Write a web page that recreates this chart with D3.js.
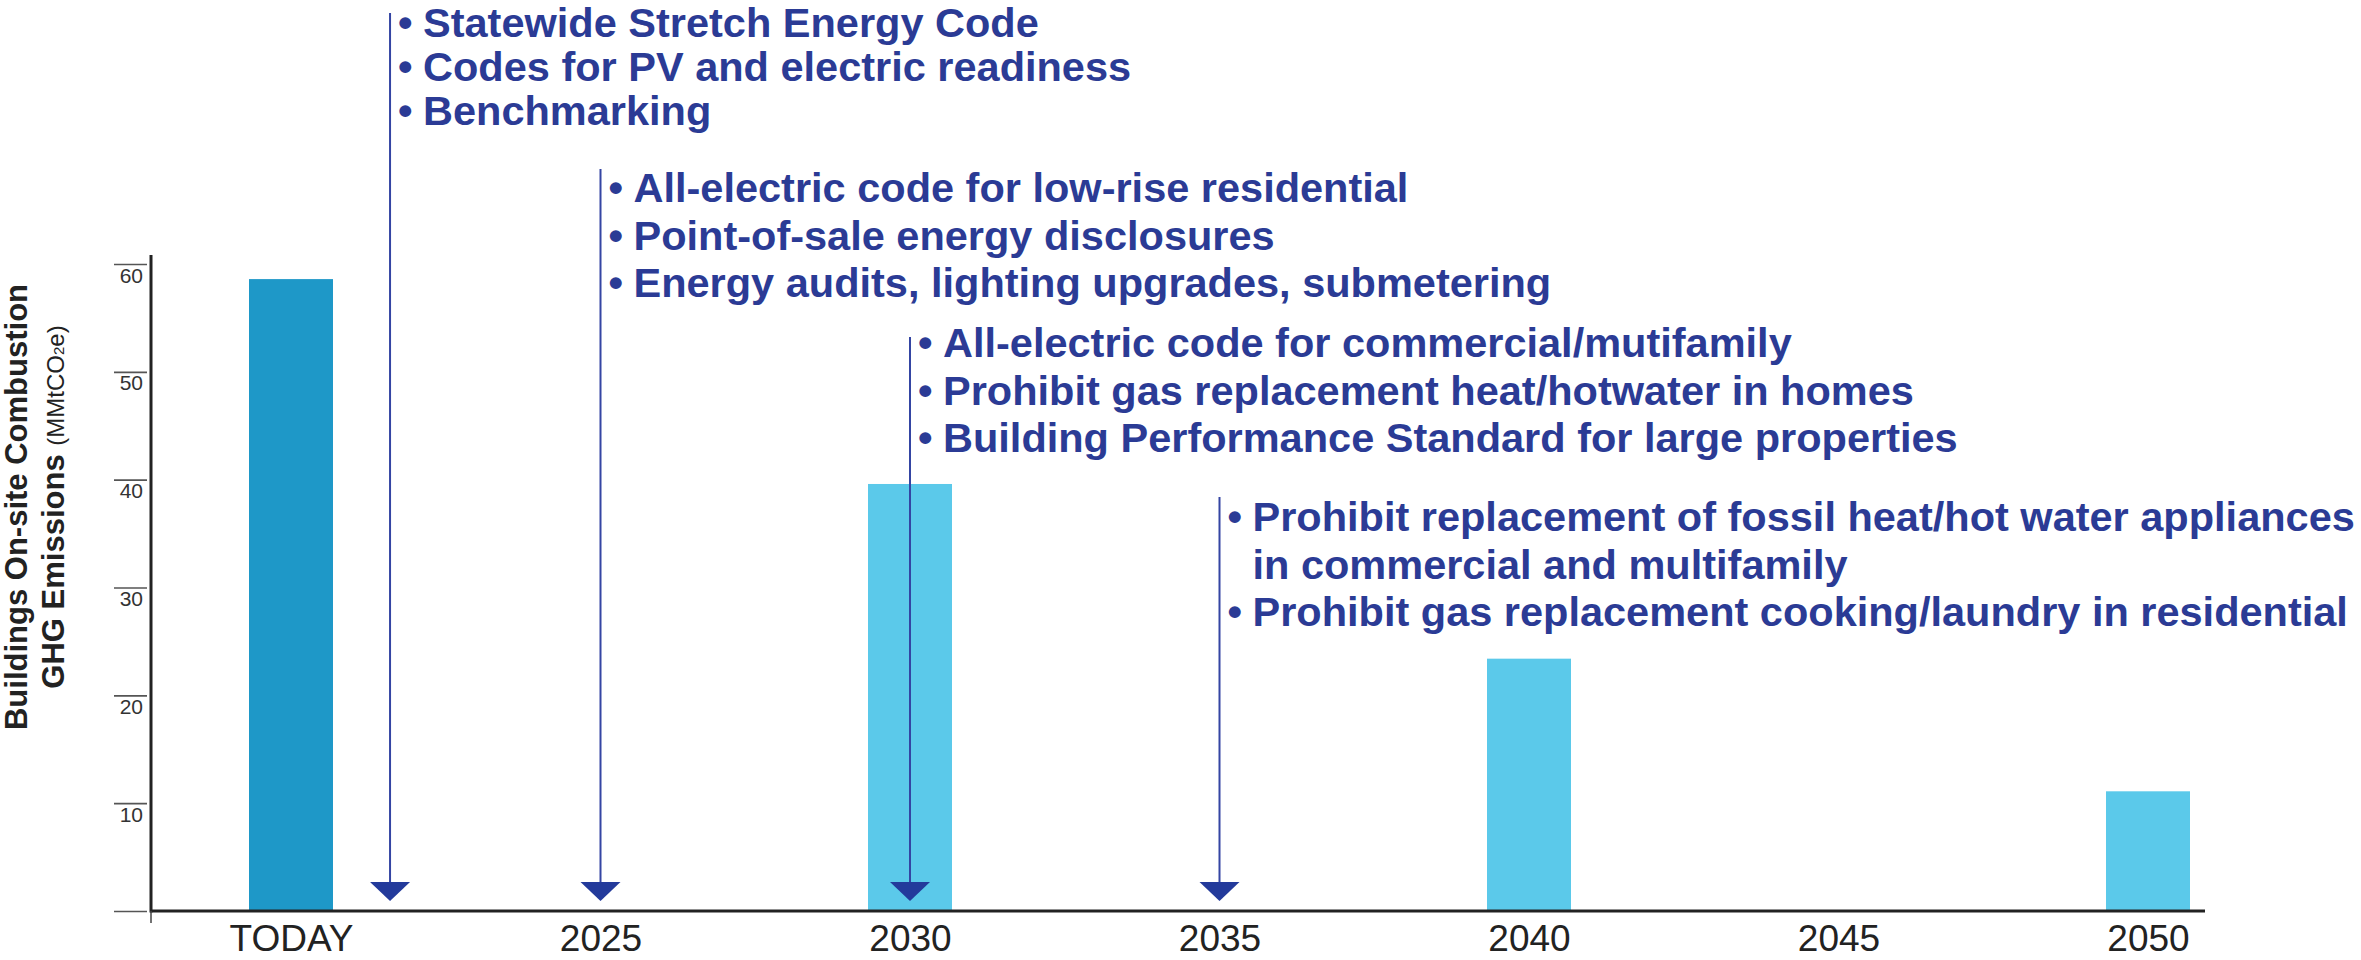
<!DOCTYPE html>
<html>
<head>
<meta charset="utf-8">
<script src="https://cdn.jsdelivr.net/npm/d3@7"></script>
<style>
  html, body { margin: 0; padding: 0; background: #fff; }
  svg { display: block; font-family: "Liberation Sans", Arial, Helvetica, sans-serif; }
</style>
</head>
<body>
<svg id="chart" width="2361" height="960"></svg>
<script>
// x categories (TODAY placed at 2020 on the year scale)
var categories = ['TODAY', '2025', '2030', '2035', '2040', '2045', '2050'];
var categoryYears = [2020, 2025, 2030, 2035, 2040, 2045, 2050];

// bars, MMtCO2e
var barYears = [2020, 2030, 2040, 2050];
var barValues = [58.6, 39.6, 23.4, 11.1];

var yTicks = [0, 10, 20, 30, 40, 50, 60];

// policy milestones (arrows) and their bullet lists
var milestoneYears = [2021.6, 2025, 2030, 2035];
var milestoneLines = [
  [{t: 'Statewide Stretch Energy Code', b: true},
   {t: 'Codes for PV and electric readiness', b: true},
   {t: 'Benchmarking', b: true}],
  [{t: 'All-electric code for low-rise residential', b: true},
   {t: 'Point-of-sale energy disclosures', b: true},
   {t: 'Energy audits, lighting upgrades, submetering', b: true}],
  [{t: 'All-electric code for commercial/mutifamily', b: true},
   {t: 'Prohibit gas replacement heat/hotwater in homes', b: true},
   {t: 'Building Performance Standard for large properties', b: true}],
  [{t: 'Prohibit replacement of fossil heat/hot water appliances', b: true},
   {t: 'in commercial and multifamily', b: false},
   {t: 'Prohibit gas replacement cooking/laundry in residential', b: true}]
];

var svg = d3.select('#chart');

var BAR_W = 84;
var BLUE_TEXT = '#2b3b95';
var ARROW_Y = 882;
var FONT_NOTE = '41.5px';

var x = d3.scaleLinear().domain([2020, 2050]).range([291, 2148]);
var y = d3.scaleLinear().domain([0, 60]).range([911, 264]);

// layout of the text blocks: top of arrow line, first baseline, row step
var blockTops = [13, 169, 337, 497];
var blockBase = [37, 202, 357, 531];
var blockStep = [44, 47.5, 47.5, 47.5];

var drawBars = function () {
  svg.append('g').selectAll('rect')
    .data(barValues)
    .enter().append('rect')
      .attr('x', function (d, i) { return x(barYears[i]) - BAR_W / 2; })
      .attr('y', function (d) { return y(d); })
      .attr('width', BAR_W)
      .attr('height', function (d) { return y(0) - y(d); })
      .style('fill', function (d, i) { return i === 0 ? '#1e98c8' : '#5bc9ea'; });
};

var drawAxes = function () {
  // y axis: short tick bars to the left, labels hanging under them
  var yAxis = svg.append('g')
    .attr('transform', 'translate(151,0)')
    .call(d3.axisLeft(y).tickValues(yTicks).tickSize(0)
      .tickFormat(function (d) { return d === 0 ? '' : d; }));
  yAxis.select('.domain').remove();
  yAxis.selectAll('.tick line')
    .attr('x1', -4).attr('x2', -37)
    .attr('stroke', '#555').attr('stroke-width', 1.6);
  yAxis.selectAll('.tick text')
    .attr('x', -8).attr('y', 18).attr('dy', 0)
    .style('font-size', '21px')
    .style('fill', '#333')
    .style('text-anchor', 'end');

  svg.append('line')
    .attr('x1', 151).attr('x2', 151)
    .attr('y1', y(60) - 9).attr('y2', y(0) + 1.5)
    .attr('stroke', '#222').attr('stroke-width', 3);

  // x axis
  var xAxis = svg.append('g')
    .attr('transform', 'translate(0,' + y(0) + ')')
    .call(d3.axisBottom(x).tickValues(categoryYears).tickSize(0)
      .tickFormat(function (d, i) { return categories[i]; }));
  xAxis.select('.domain').remove();
  xAxis.selectAll('.tick text')
    .attr('y', 40).attr('dy', 0)
    .style('font-size', '37px')
    .style('fill', '#222');

  svg.append('line')
    .attr('x1', 150).attr('x2', 2205)
    .attr('y1', y(0)).attr('y2', y(0))
    .attr('stroke', '#222').attr('stroke-width', 3);
  svg.append('line')
    .attr('x1', 151).attr('x2', 151)
    .attr('y1', y(0)).attr('y2', y(0) + 12)
    .attr('stroke', '#444').attr('stroke-width', 1.5);

  // y title
  svg.append('text')
    .attr('transform', 'translate(27,507) rotate(-90)')
    .style('text-anchor', 'middle')
    .style('font-size', '31px')
    .style('font-weight', 'bold')
    .style('fill', '#222')
    .text('Buildings On-site Combustion');
  var t2 = svg.append('text')
    .attr('transform', 'translate(64,507) rotate(-90)')
    .style('text-anchor', 'middle')
    .style('fill', '#222');
  t2.append('tspan').style('font-size', '31px').style('font-weight', 'bold').text('GHG Emissions ');
  t2.append('tspan').style('font-size', '24px').text('(MMtCO');
  t2.append('tspan').style('font-size', '15px').text('2');
  t2.append('tspan').style('font-size', '24px').text('e)');
};

var drawMilestones = function () {
  milestoneYears.forEach(function (yr, i) {
    var ax = x(yr);
    var g = svg.append('g');
    g.append('line')
      .attr('x1', ax).attr('x2', ax)
      .attr('y1', blockTops[i]).attr('y2', ARROW_Y + 2)
      .attr('stroke', '#3445a3').attr('stroke-width', 2);
    g.append('path')
      .attr('d', 'M' + (ax - 20) + ',' + ARROW_Y + 'L' + (ax + 20) + ',' + ARROW_Y + 'L' + ax + ',' + (ARROW_Y + 19) + 'Z')
      .style('fill', '#233a9b');

    milestoneLines[i].forEach(function (ln, j) {
      var by = blockBase[i] + j * blockStep[i];
      if (ln.b) {
        g.append('text')
          .attr('x', ax + 8).attr('y', by)
          .style('font-size', FONT_NOTE).style('font-weight', 'bold')
          .style('fill', BLUE_TEXT)
          .text('\u2022');
      }
      g.append('text')
        .attr('x', ax + 33).attr('y', by)
        .style('font-size', FONT_NOTE).style('font-weight', 'bold')
        .style('fill', BLUE_TEXT)
        .text(ln.t);
    });
  });
};

drawBars();
drawAxes();
drawMilestones();
</script>
</body>
</html>
